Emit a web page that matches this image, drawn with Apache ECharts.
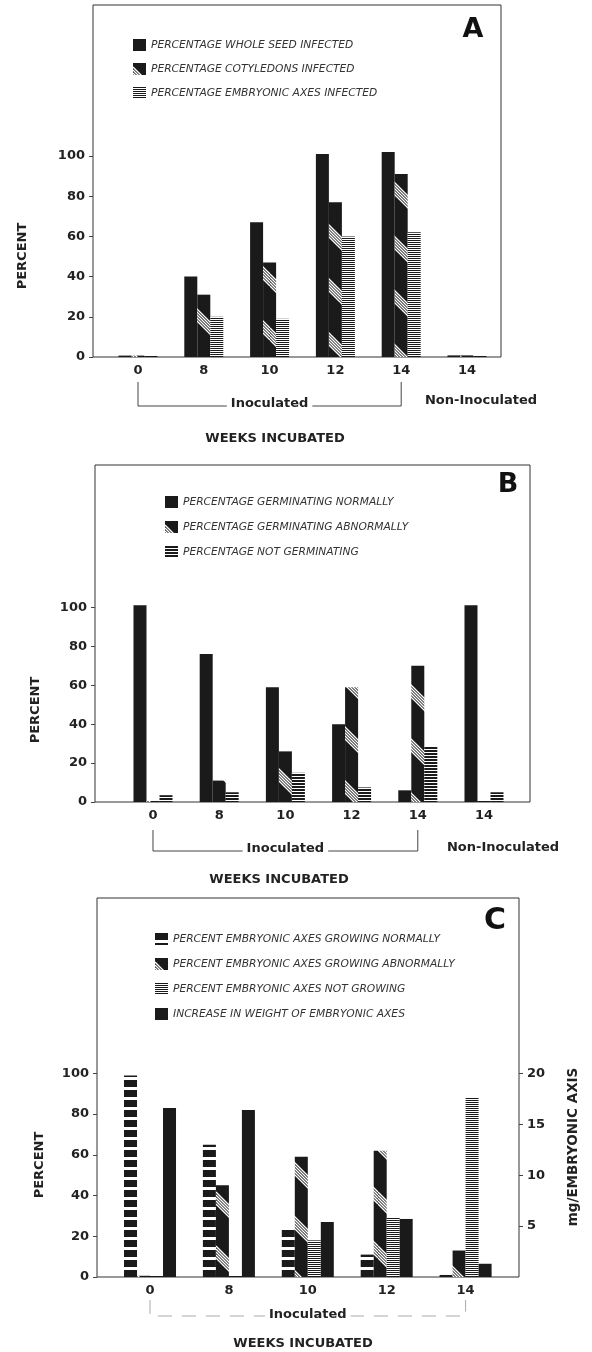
<!DOCTYPE html>
<html><head><meta charset="utf-8">
<script src="https://cdn.jsdelivr.net/npm/echarts@6/dist/echarts.min.js"></script>
<style>html,body{margin:0;padding:0;background:#fff}#c{width:592px;height:1352px}</style>
</head><body><div id="c"></div>
<script>
// ---------- DATA ----------
const catsA = ['0', '8', '10', '12', '14', '14'];
const namesA = ['PERCENTAGE WHOLE SEED INFECTED', 'PERCENTAGE COTYLEDONS INFECTED', 'PERCENTAGE EMBRYONIC AXES INFECTED'];
const wholeSeedA = [0.7, 40, 67, 101, 102, 0.8];
const cotyledonA = [0.7, 31, 47, 77, 91, 0.8];
const embryoA = [0.7, 20, 19, 60, 62, 0.8];

const catsB = ['0', '8', '10', '12', '14', '14'];
const namesB = ['PERCENTAGE GERMINATING NORMALLY', 'PERCENTAGE GERMINATING ABNORMALLY', 'PERCENTAGE NOT GERMINATING'];
const normalB = [101, 76, 59, 40, 6, 101];
const abnormalB = [0.5, 11, 26, 59, 70, 0.5];
const notGermB = [3.5, 5, 15, 7.5, 28.5, 5];

const catsC = ['0', '8', '10', '12', '14'];
const namesC = ['PERCENT EMBRYONIC AXES GROWING NORMALLY', 'PERCENT EMBRYONIC AXES GROWING ABNORMALLY', 'PERCENT EMBRYONIC AXES NOT GROWING', 'INCREASE IN WEIGHT OF EMBRYONIC AXES'];
const normalC = [99, 65, 24, 11, 1];
const abnormalC = [0.6, 45, 59, 62, 13];
const notGrowC = [0.6, 0.6, 18, 29, 88];
const weightC = [16.6, 16.4, 5.4, 5.7, 1.3];   // mg / embryonic axis (right axis)

const pctTicks = [0, 20, 40, 60, 80, 100];
const mgTicks = [5, 10, 15, 20];

// ---------- PATTERNS ----------
const INK = '#1a1a1a';
function mk(w, h, draw) { const c = document.createElement('canvas'); c.width = w; c.height = h; draw(c.getContext('2d'), w, h); return c; }
const diag = mk(54, 54, (g, w, h) => {
  g.fillStyle = INK; g.fillRect(0, 0, w, h);
  g.strokeStyle = '#fff'; g.lineWidth = 1.3;
  for (let k = 0; k < 5; k++) {
    const c0 = 4 + k * 3;
    for (const off of [-54, 0, 54]) { g.beginPath(); g.moveTo(0, c0 + off); g.lineTo(54, c0 + off + 54); g.stroke(); }
  }
});
const hfine2 = mk(4, 2, (g) => { g.fillStyle = '#fff'; g.fillRect(0, 0, 4, 2); g.fillStyle = INK; g.fillRect(0, 0, 4, 1); });
const hfine3 = mk(4, 3, (g) => { g.fillStyle = '#fff'; g.fillRect(0, 0, 4, 3); g.fillStyle = INK; g.fillRect(0, 0, 4, 2); });
const ladder = mk(4, 10, (g) => { g.fillStyle = INK; g.fillRect(0, 0, 4, 10); g.fillStyle = '#fff'; g.fillRect(0, 7, 4, 3); });
const P = (c) => ({ image: c, repeat: 'repeat' });

// ---------- STYLE ----------
const FONT = 'DejaVu Sans';
const TXT = '#222';
const lab = { fontFamily: FONT, fontWeight: 'bold', fontSize: 13, color: TXT };

function xAx(gi, min, max, cats) {
  return { type: 'value', gridIndex: gi, min, max, splitLine: { show: false }, axisLine: { show: false, onZero: false }, axisTick: { show: false },
    axisLabel: Object.assign({ customValues: cats.map((_, i) => i), formatter: v => cats[Math.round(v)], margin: 7 }, lab) };
}
function yAx(gi, max, ticks, pos) {
  return { type: 'value', gridIndex: gi, min: 0, max, position: pos || 'left', splitLine: { show: false }, axisLine: { show: false, onZero: false },
    axisTick: { show: true, customValues: ticks, length: 4, lineStyle: { color: '#444' } },
    axisLabel: Object.assign({ customValues: ticks, margin: 8 }, lab) };
}
function bar(name, data, xi, yi, color) {
  return { type: 'bar', name, xAxisIndex: xi, yAxisIndex: yi, data: data.map((v, i) => [i, v]), barWidth: 13, barGap: '0%',
    itemStyle: { color }, silent: true, animation: false };
}
function leg(names, left, top, gap) {
  return { data: names, left, top, orient: 'vertical', itemWidth: 13, itemHeight: 12, itemGap: gap, selectedMode: false, icon: 'rect',
    textStyle: { fontFamily: FONT, fontStyle: 'italic', fontSize: 10.7, color: '#333' } };
}
const gridBase = { show: true, borderColor: '#333', borderWidth: 1, backgroundColor: 'transparent' };

const chart = echarts.init(document.getElementById('c'), null, { renderer: 'canvas' });
chart.setOption({
  animation: false,
  backgroundColor: '#fff',
  grid: [
    Object.assign({ left: 93, top: 5, width: 408, height: 352 }, gridBase),
    Object.assign({ left: 95, top: 465, width: 435, height: 337 }, gridBase),
    Object.assign({ left: 97, top: 898, width: 422, height: 379 }, gridBase)
  ],
  xAxis: [xAx(0, -0.684, 5.517, catsA), xAx(1, -0.876, 5.695, catsB), xAx(2, -0.672, 4.677, catsC)],
  yAxis: [yAx(0, 175.1, pctTicks), yAx(1, 173.1, pctTicks), yAx(2, 186.1, pctTicks), yAx(2, 37.22, mgTicks, 'right')],
  legend: [leg(namesA, 128, 34, 12), leg(namesB, 160, 491, 13), leg(namesC, 150, 928, 13)],
  series: [
    bar(namesA[0], wholeSeedA, 0, 0, INK),
    bar(namesA[1], cotyledonA, 0, 0, P(diag)),
    bar(namesA[2], embryoA, 0, 0, P(hfine2)),
    bar(namesB[0], normalB, 1, 1, INK),
    bar(namesB[1], abnormalB, 1, 1, P(diag)),
    bar(namesB[2], notGermB, 1, 1, P(hfine3)),
    bar(namesC[0], normalC, 2, 2, P(ladder)),
    bar(namesC[1], abnormalC, 2, 2, P(diag)),
    bar(namesC[2], notGrowC, 2, 2, P(hfine2)),
    bar(namesC[3], weightC, 2, 3, INK)
  ]
});

// ---------- ANNOTATIONS (positions from the axes) ----------
function px(xi, v) { return chart.convertToPixel({ xAxisIndex: xi }, v); }
function T(text, x, y, o) {
  return { type: 'text', x, y, rotation: (o && o.rot) || 0, z: 10,
    style: Object.assign({ text, fill: TXT, font: 'bold 13px "' + FONT + '"', align: 'center', verticalAlign: 'middle' }, (o && o.style) || {}) };
}
function bracket(xi, i0, i1, yTop, yBot, label, ly, dashed) {
  const a = px(xi, i0), b = px(xi, i1);
  return [
    { type: 'polyline', z: 5, shape: { points: [[a, yTop], [a, yBot], [b, yBot], [b, yTop]] },
      style: { stroke: dashed ? '#aaa' : '#444', lineWidth: 1, fill: null, lineDash: dashed ? [14, 10] : null } },
    T(label, (a + b) / 2, ly, { style: { backgroundColor: '#fff', padding: [1, 4] } })
  ];
}
const g = [];
g.push(...bracket(0, 0, 4, 382, 406, 'Inoculated', 404));
g.push(...bracket(1, 0, 4, 830, 851, 'Inoculated', 849));
g.push(...bracket(2, 0, 4, 1300, 1316, 'Inoculated', 1315, true));
g.push(T('Non-Inoculated', 481, 401));
g.push(T('Non-Inoculated', 503, 848));
g.push(T('WEEKS INCUBATED', 275, 439));
g.push(T('WEEKS INCUBATED', 279, 880));
g.push(T('WEEKS INCUBATED', 303, 1344));
g.push(T('PERCENT', 23, 256, { rot: Math.PI / 2 }));
g.push(T('PERCENT', 36, 710, { rot: Math.PI / 2 }));
g.push(T('PERCENT', 40, 1165, { rot: Math.PI / 2 }));
g.push(T('mg/EMBRYONIC AXIS', 573, 1147, { rot: Math.PI / 2, style: { font: 'bold 13.5px "' + FONT + '"' } }));
g.push(T('A', 473, 30, { style: { font: 'bold 27px "' + FONT + '"', fill: '#111' } }));
g.push(T('B', 508, 485, { style: { font: 'bold 27px "' + FONT + '"', fill: '#111' } }));
g.push(T('C', 495, 921, { style: { font: 'bold 30px "' + FONT + '"', fill: '#111' } }));
chart.setOption({ graphic: g });
</script></body></html>
